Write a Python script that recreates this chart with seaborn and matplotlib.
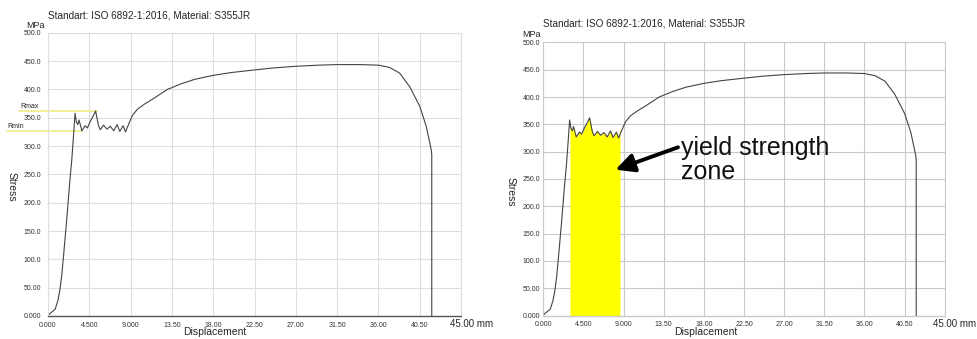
import matplotlib
matplotlib.use('Agg')
import matplotlib.pyplot as plt
import seaborn as sns
import pandas as pd

# stress-strain curve (displacement mm, stress MPa)
displacement = [0.0, 0.2, 0.5, 0.8, 1.1, 1.3, 1.5, 1.7, 2.05, 2.4, 2.6, 2.8, 2.96,
                3.1, 3.25, 3.4, 3.7, 4.06, 4.3, 4.6, 4.9, 5.2, 5.5, 5.7, 6.07,
                6.44, 6.8, 7.17, 7.54, 7.83, 8.2, 8.45, 8.8, 9.2, 9.74, 10.5,
                11.5, 13.0, 14.5, 16.0, 18.0, 20.0, 22.2, 24.5, 27.0, 29.5,
                31.5, 34.0, 36.0, 37.2, 38.3, 39.4, 40.5, 41.2, 41.75, 41.8, 41.8]
stress = [0.0, 4.0, 8.0, 12.0, 28.0, 45.0, 70.0, 105.0, 170.0, 240.0, 275.0, 320.0, 358.0,
          343.0, 338.0, 346.0, 327.0, 336.0, 332.0, 343.0, 352.0, 362.0, 337.0, 329.0, 337.0,
          330.0, 335.0, 327.0, 338.0, 326.0, 336.0, 325.0, 339.0, 354.0, 365.0, 374.0,
          384.0, 400.0, 410.0, 418.0, 425.0, 430.0, 434.0, 438.0, 441.0, 443.0,
          444.0, 444.0, 443.0, 439.0, 429.0, 405.0, 370.0, 335.0, 293.0, 285.0, 0.0]

x_ticks = [0, 4.5, 9, 13.5, 18, 22.5, 27, 31.5, 36, 40.5]
x_tick_labels = ['0.000', '4.500', '9.000', '13.50', '18.00', '22.50', '27.00', '31.50', '36.00', '40.50']
y_ticks = [0, 50, 100, 150, 200, 250, 300, 350, 400, 450, 500]
y_tick_labels = ['0.000', '50.00', '100.0', '150.0', '200.0', '250.0', '300.0', '350.0', '400.0', '450.0', '500.0']

r_max = 362
r_min = 326
yield_start, yield_end = 3.0, 8.6

title = 'Standart: ISO 6892-1:2016, Material: S355JR'

sns.set_style('white')
plt.rcParams['font.family'] = ['Liberation Sans', 'DejaVu Sans']

df = pd.DataFrame({'Displacement': displacement, 'Stress': stress})

fig = plt.figure(figsize=(9.77, 3.39), dpi=100)
ax1 = fig.add_axes([0.049, 0.068, 0.423, 0.835])
ax2 = fig.add_axes([0.556, 0.069, 0.411, 0.806])


def style_axes(ax, grid_color, bottom_color, ypad):
    ax.set_xlim(0, 45)
    ax.set_ylim(0, 500)
    ax.set_xticks(x_ticks + [45])
    ax.set_xticklabels(x_tick_labels + [''])
    ax.set_yticks(y_ticks)
    ax.set_yticklabels(y_tick_labels)
    ax.tick_params(axis='both', length=0, labelsize=5, colors='#333333')
    ax.tick_params(axis='x', pad=4)
    ax.tick_params(axis='y', pad=ypad)
    ax.grid(True, color=grid_color, linewidth=0.8)
    for name, spine in ax.spines.items():
        spine.set_color(grid_color)
        spine.set_linewidth(0.8)
    ax.spines['bottom'].set_color(bottom_color)
    ax.spines['bottom'].set_linewidth(1.0)
    ax.set_xlabel('Displacement', fontsize=7.5, x=0.405, labelpad=-1)
    ax.set_ylabel('')
    ax.annotate('45.00 mm', xy=(1, 0), xycoords='axes fraction', xytext=(10, -8),
                textcoords='offset pixels', ha='center', va='center', fontsize=7)
    ax.annotate('MPa', xy=(0, 1), xycoords='axes fraction', xytext=(-12, 3),
                textcoords='offset pixels', ha='center', va='bottom', fontsize=6.5)


for ax in (ax1, ax2):
    sns.lineplot(data=df, x='Displacement', y='Stress', ax=ax, sort=False,
                 estimator=None, color='#444444', linewidth=0.8)

style_axes(ax1, '#dedede', '#555555', 5)
style_axes(ax2, '#cacaca', '#cacaca', 2)

# left panel: Rmax / Rmin markers
ax1.plot([-3.1, 5.4], [r_max, r_max], color='#eeee88', linewidth=1.2, clip_on=False, zorder=1)
ax1.plot([-4.4, 3.7], [r_min, r_min], color='#eeee88', linewidth=1.2, clip_on=False, zorder=1)
ax1.text(-3.0, r_max + 2, 'Rmax', fontsize=5, ha='left', va='bottom')
ax1.text(-4.4, r_min + 2, 'Rmin', fontsize=5, ha='left', va='bottom')

# right panel: yield strength zone
in_zone = [(x >= yield_start) and (x <= yield_end) for x in displacement]
zone = df[in_zone]
zx = [yield_start] + list(zone['Displacement']) + [yield_end]
zy = [stress[displacement.index(zone['Displacement'].iloc[0])]] + list(zone['Stress']) + [345.0]
ax2.fill_between(zx, 0, zy, color='#ffff00', zorder=1.5, linewidth=0)

ax2.annotate('', xy=(8.1, 267), xytext=(15.1, 308),
             arrowprops=dict(arrowstyle='-|>', color='black', lw=2.8, mutation_scale=28,
                             shrinkA=0, shrinkB=0))
ax2.text(15.4, 284, 'yield strength\nzone', fontsize=18, ha='left', va='center',
         linespacing=1.0, color='#111111')

fig.text(48 / 977, 1 - 15 / 339, title, fontsize=7.2, ha='left', va='center')
fig.text(543 / 977, 1 - 23 / 339, title, fontsize=7.2, ha='left', va='center')
fig.text(12 / 977, 1 - 187 / 339, 'Stress', fontsize=7.5, rotation=-90, ha='center', va='center')
fig.text(511 / 977, 1 - 192 / 339, 'Stress', fontsize=7.5, rotation=-90, ha='center', va='center')

plt.savefig('out.png', dpi=100)
plt.close()
